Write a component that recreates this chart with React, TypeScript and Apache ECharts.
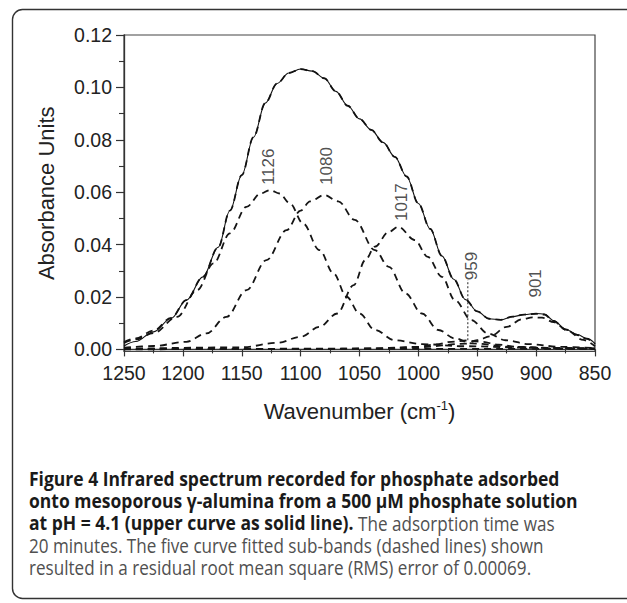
import React, { useEffect, useRef } from "react";
import * as echarts from "echarts";

// ---- data ----
const totalWn = [1250, 1240, 1225, 1210, 1197, 1183, 1170, 1160, 1150, 1140, 1130, 1120, 1110, 1100, 1090, 1080, 1070, 1060, 1050, 1040, 1030, 1020, 1010, 1000, 990, 980, 970, 960, 950, 940, 930, 920, 910, 900, 893, 885, 875, 865, 857, 850];
const totalAbs = [0.0013, 0.003, 0.0067, 0.0118, 0.0188, 0.0277, 0.039, 0.053, 0.0665, 0.081, 0.094, 0.1015, 0.1055, 0.107, 0.1062, 0.1035, 0.0985, 0.093, 0.088, 0.0838, 0.079, 0.0735, 0.066, 0.0557, 0.046, 0.0357, 0.0268, 0.019, 0.0145, 0.0117, 0.0113, 0.0125, 0.0133, 0.0137, 0.0135, 0.011, 0.0077, 0.0057, 0.0042, 0.0022];
const fitAbs = [0.0028, 0.0042, 0.0072, 0.012, 0.0188, 0.0277, 0.039, 0.053, 0.0665, 0.081, 0.094, 0.1015, 0.1055, 0.107, 0.1062, 0.1035, 0.0985, 0.093, 0.088, 0.0838, 0.079, 0.0735, 0.066, 0.0557, 0.046, 0.0357, 0.0268, 0.019, 0.0145, 0.0117, 0.0113, 0.0125, 0.0133, 0.0136, 0.0133, 0.0108, 0.0076, 0.0055, 0.0040, 0.0021];

const band1126Wn = [1250, 1240, 1225, 1205, 1188, 1174, 1160, 1146, 1134, 1126, 1118, 1109, 1098, 1084, 1072, 1061, 1050, 1037, 1020, 997, 960, 900, 850];
const band1126Abs = [0.0025, 0.0038, 0.0062, 0.0124, 0.0226, 0.0328, 0.0443, 0.0544, 0.0595, 0.0608, 0.0595, 0.0557, 0.0481, 0.0379, 0.029, 0.0201, 0.0137, 0.0074, 0.0035, 0.002, 0.0012, 0.0006, 0.0004];

const band1080Wn = [1250, 1225, 1197, 1180, 1163, 1146, 1129, 1112, 1100, 1092, 1080, 1068, 1054, 1037, 1025, 1011, 997, 983, 969, 955, 920, 880, 850];
const band1080Abs = [0.0006, 0.0013, 0.0029, 0.0061, 0.0124, 0.0226, 0.0341, 0.0455, 0.053, 0.0565, 0.0589, 0.0565, 0.0494, 0.0379, 0.0315, 0.0214, 0.0137, 0.0074, 0.0042, 0.0023, 0.001, 0.0005, 0.0003];

const band1017Wn = [1250, 1150, 1120, 1100, 1084, 1069, 1055, 1045, 1037, 1025, 1017, 1003, 992, 980, 969, 955, 941, 926, 906, 880, 850];
const band1017Abs = [0.0002, 0.0008, 0.0025, 0.0048, 0.0086, 0.0137, 0.0245, 0.0341, 0.0392, 0.0449, 0.0468, 0.0417, 0.0353, 0.0277, 0.0188, 0.0112, 0.0061, 0.0035, 0.002, 0.001, 0.0005];

const band959Wn = [1250, 1100, 1030, 1000, 985, 972, 959, 946, 932, 915, 880, 850];
const band959Abs = [0.0001, 0.0001, 0.0004, 0.001, 0.0019, 0.0029, 0.0034, 0.0029, 0.0018, 0.0009, 0.0003, 0.0001];

const band901Wn = [1250, 1050, 1000, 960, 950, 939, 925, 912, 903, 895, 885, 874, 860, 850];
const band901Abs = [0.0, 0.0003, 0.0008, 0.0022, 0.0035, 0.005, 0.0086, 0.0115, 0.0122, 0.0121, 0.0104, 0.0073, 0.0036, 0.0012];

const baselineWn = [1250, 850];
const baselineAbs = [0.0002, 0.0002];

const marker959Wn = [958, 958];
const marker959Abs = [0.0035, 0.0265];

const peakLabels = ["1126", "1080", "1017", "959", "901"];
const peakLabelWn = [1127.5, 1078, 1014, 955, 900.5];
const peakLabelAbs = [0.0697, 0.070, 0.0562, 0.0318, 0.0252];

const yMajorTicks = [0, 0.02, 0.04, 0.06, 0.08, 0.1, 0.12];
const yMinorTicks = [0.01, 0.03, 0.05, 0.07, 0.09, 0.11];

const captionBold = [
  "Figure 4 Infrared spectrum recorded for phosphate adsorbed",
  "onto mesoporous γ-alumina from a 500 μM phosphate solution",
  "at pH = 4.1 (upper curve as solid line).",
];
const captionRegular = [
  "The adsorption time was",
  "20 minutes. The five curve fitted sub-bands (dashed lines) shown",
  "resulted in a residual root mean square (RMS) error of 0.00069.",
];

const pairs = (wn: number[], v: number[]) => wn.map((w, i) => [w, v[i]]);

const AXIS_FONT = '"Liberation Sans", Arial, sans-serif';
const CAP_FONT = '"Open Sans", "Noto Sans", sans-serif';

function measure(text: string, font: string): number {
  const c = document.createElement("canvas");
  const ctx = c.getContext("2d");
  if (!ctx) return text.length * 9;
  ctx.font = font;
  return ctx.measureText(text).width;
}

export default function App() {
  const ref = useRef<HTMLDivElement>(null);
  useEffect(() => {
    if (!ref.current) return;
    const chart = echarts.init(ref.current, null, { renderer: "svg" });
    const dashed = (name: string, data: number[][]) => ({
      name,
      type: "line",
      data,
      smooth: 0.35,
      smoothMonotone: "x",
      showSymbol: false,
      symbol: "none",
      lineStyle: { color: "#151515", width: 1.8, type: [7, 5] },
      z: 2,
    });
    const boldFont = `bold 20px ${CAP_FONT}`;
    const regFont = `20px ${CAP_FONT}`;
    const capScaleB = 0.875;
    const capScaleR = 0.855;
    const capX = 29;
    const lineY = [479, 501, 523, 545, 567];
    const boldLine3W = measure(captionBold[2], boldFont) * capScaleB;
    const spaceW = measure(" ", regFont) * capScaleR;
    const option: any = {
      animation: false,
      backgroundColor: "#ffffff",
      grid: {
        left: 124,
        right: 32,
        top: 35,
        bottom: 251.5,
        show: true,
        borderColor: "#444",
        borderWidth: 1.2,
        containLabel: false,
      },
      xAxis: {
        type: "value",
        min: 850,
        max: 1250,
        interval: 50,
        inverse: true,
        name: "Wavenumber (cm{sup|-1})",
        nameLocation: "middle",
        nameGap: 47,
        nameTextStyle: {
          fontSize: 22,
          color: "#222",
          fontFamily: AXIS_FONT,
          lineHeight: 26,
          rich: {
            sup: { fontSize: 13, lineHeight: 13, verticalAlign: "top", color: "#222", fontFamily: AXIS_FONT },
          },
        },
        axisLine: { show: true, lineStyle: { color: "#333", width: 1.3 } },
        axisTick: { show: true, length: 7, lineStyle: { color: "#333", width: 1.2 } },
        minorTick: { show: true, splitNumber: 2, length: 4, lineStyle: { color: "#333", width: 1.1 } },
        axisLabel: {
          fontSize: 19.5,
          color: "#222",
          fontFamily: AXIS_FONT,
          margin: 11,
          formatter: (v: number) => String(v),
        },
        splitLine: { show: false },
      },
      yAxis: [
        {
          type: "value",
          min: -0.0008,
          max: 0.12,
          position: "left",
          name: "Absorbance Units",
          nameLocation: "middle",
          nameGap: 67,
          nameTextStyle: { fontSize: 22, color: "#222", fontFamily: AXIS_FONT },
          axisLine: { show: true, lineStyle: { color: "#333", width: 1.3 } },
          axisTick: { show: true, length: 8, customValues: yMajorTicks, lineStyle: { color: "#333", width: 1.2 } },
          axisLabel: {
            customValues: yMajorTicks,
            fontSize: 19.5,
            color: "#222",
            fontFamily: AXIS_FONT,
            margin: 12,
            formatter: (v: number) => v.toFixed(2),
          },
          splitLine: { show: false },
        },
        {
          type: "value",
          min: -0.0008,
          max: 0.12,
          position: "left",
          axisLine: { show: false },
          axisTick: { show: true, length: 5, customValues: yMinorTicks, lineStyle: { color: "#333", width: 1.1 } },
          axisLabel: { show: false },
          splitLine: { show: false },
        },
      ],
      series: [
        {
          name: "Spectrum",
          type: "line",
          data: pairs(totalWn, totalAbs),
          smooth: 0.35,
          smoothMonotone: "x",
          showSymbol: false,
          symbol: "none",
          lineStyle: { color: "#111", width: 1.1 },
          z: 3,
        },
        dashed("Fit", pairs(totalWn, fitAbs)),
        dashed("1126", pairs(band1126Wn, band1126Abs)),
        dashed("1080", pairs(band1080Wn, band1080Abs)),
        dashed("1017", pairs(band1017Wn, band1017Abs)),
        dashed("959", pairs(band959Wn, band959Abs)),
        dashed("901", pairs(band901Wn, band901Abs)),
        dashed("Baseline", pairs(baselineWn, baselineAbs)),
        {
          name: "959 marker",
          type: "line",
          data: pairs(marker959Wn, marker959Abs),
          showSymbol: false,
          symbol: "none",
          lineStyle: { color: "#222", width: 1, type: [2, 2] },
          z: 2,
        },
        {
          name: "Peak labels",
          type: "scatter",
          symbolSize: 1,
          itemStyle: { color: "rgba(0,0,0,0)" },
          data: peakLabels.map((t, i) => ({ value: [peakLabelWn[i], peakLabelAbs[i]], name: t })),
          label: {
            show: true,
            position: "inside",
            rotate: 90,
            formatter: (p: any) => p.name,
            fontSize: 17,
            color: "#222",
            fontFamily: AXIS_FONT,
          },
          z: 4,
        },
      ],
      graphic: [
        {
          type: "rect",
          shape: { x: 12.5, y: 9.5, width: 700, height: 589, r: 10 },
          style: { fill: "none", stroke: "#333", lineWidth: 1.4 },
          silent: true,
        },
        ...captionBold.map((t, i) => ({
          type: "text",
          x: capX,
          y: lineY[i],
          scaleX: capScaleB,
          style: { text: t, font: boldFont, fill: "#1a1a1a", verticalAlign: "middle" },
        })),
        {
          type: "text",
          x: capX + boldLine3W + spaceW,
          y: lineY[2],
          scaleX: capScaleR,
          style: { text: captionRegular[0], font: regFont, fill: "#505050", verticalAlign: "middle" },
        },
        {
          type: "text",
          x: capX,
          y: lineY[3],
          scaleX: capScaleR,
          style: { text: captionRegular[1], font: regFont, fill: "#505050", verticalAlign: "middle" },
        },
        {
          type: "text",
          x: capX,
          y: lineY[4],
          scaleX: capScaleR,
          style: { text: captionRegular[2], font: regFont, fill: "#505050", verticalAlign: "middle" },
        },
      ],
    };
    chart.setOption(option);
    return () => chart.dispose();
  }, []);
  return (
    <div
      ref={ref}
      style={{ position: "absolute", left: 0, top: 0, width: 627, height: 603, background: "#fff" }}
    />
  );
}
